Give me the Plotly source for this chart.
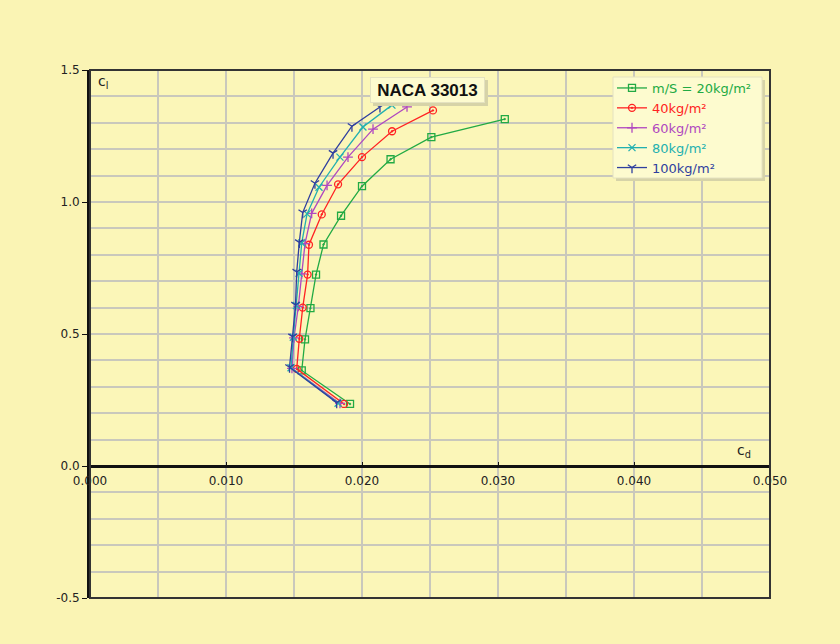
import plotly.graph_objects as go

# ---- data ----
series_names = ["m/S = 20kg/m²", "40kg/m²", "60kg/m²", "80kg/m²", "100kg/m²"]

cd_20 = [0.01912, 0.01557, 0.01581, 0.01621, 0.01662, 0.01717, 0.01846, 0.0200, 0.0221, 0.0251, 0.0305]
cl_20 = [0.235, 0.362, 0.480, 0.598, 0.725, 0.839, 0.948, 1.060, 1.162, 1.246, 1.314]

cd_40 = [0.01868, 0.0152, 0.01539, 0.01564, 0.01600, 0.01610, 0.01704, 0.01824, 0.0200, 0.02221, 0.02522]
cl_40 = [0.235, 0.368, 0.482, 0.600, 0.725, 0.838, 0.953, 1.067, 1.170, 1.268, 1.347]

cd_60 = [0.01838, 0.01485, 0.0150, 0.01532, 0.01557, 0.01581, 0.0163, 0.01743, 0.01897, 0.02081, 0.02331]
cl_60 = [0.237, 0.370, 0.485, 0.605, 0.728, 0.842, 0.957, 1.063, 1.170, 1.276, 1.360]

cd_80 = [0.01824, 0.01478, 0.01495, 0.01518, 0.01537, 0.01557, 0.01596, 0.01684, 0.01838, 0.02007, 0.0222]
cl_80 = [0.238, 0.372, 0.488, 0.608, 0.730, 0.845, 0.955, 1.056, 1.170, 1.284, 1.367]

cd_100 = [0.01814, 0.01467, 0.01489, 0.01511, 0.0152, 0.01539, 0.01564, 0.01654, 0.01787, 0.01926, 0.02132]
cl_100 = [0.240, 0.374, 0.490, 0.610, 0.735, 0.847, 0.960, 1.071, 1.185, 1.287, 1.360]

x_ticks = [0.0, 0.01, 0.02, 0.03, 0.04, 0.05]
x_tick_labels = ["0.000", "0.010", "0.020", "0.030", "0.040", "0.050"]
y_ticks = [-0.5, 0.0, 0.5, 1.0, 1.5]
y_tick_labels = ["-0.5", "0.0", "0.5", "1.0", "1.5"]

chart_title = "NACA 33013"

# ---- styles ----
colors = ["#22AA44", "#FF2222", "#B048C0", "#22B0B0", "#2F3F9F"]
symbols = ["square-open-dot", "circle-open-dot", "cross-thin-open", "x-thin-open", "y-down-open"]
xs = [cd_20, cd_40, cd_60, cd_80, cd_100]
ys = [cl_20, cl_40, cl_60, cl_80, cl_100]

FONT = "DejaVu Sans, Verdana, sans-serif"
TFONT = "Liberation Sans, Arial, sans-serif"
SHADOW = "#D6D3A8"
BOXBG = "#FDFBCF"

fig = go.Figure()
for name, x, y, c, s in zip(series_names, xs, ys, colors, symbols):
    fig.add_trace(go.Scatter(
        x=x, y=y, mode="lines+markers",
        name=f"<span style='color:{c}'>{name}</span>",
        line=dict(color=c, width=1.3),
        marker=dict(symbol=s, size=7, color=c, line=dict(color=c, width=1.3)),
    ))

def px2paper(px, py):
    return (px - 90) / 680.0, (598 - py) / 528.0

grid_c = "#C9C8BC"
lx, ly = px2paper(612, 73)
fig.update_layout(
    width=840, height=644,
    margin=dict(l=90, r=70, t=70, b=46),
    paper_bgcolor="#FAF4B4",
    plot_bgcolor="#FBF6B8",
    font=dict(family=FONT, size=12, color="#222222"),
    showlegend=True,
    legend=dict(
        x=lx, y=ly, xanchor="left", yanchor="top",
        bgcolor="rgba(0,0,0,0)", borderwidth=0,
        font=dict(family=FONT, size=13),
        tracegroupgap=0, itemwidth=30,
    ),
    xaxis=dict(
        range=[0, 0.05], tickvals=x_ticks, ticktext=x_tick_labels,
        showgrid=True, gridcolor=grid_c, gridwidth=1.5,
        minor=dict(dtick=0.005, showgrid=True, gridcolor=grid_c, gridwidth=1.5),
        zeroline=False, showline=False,
        anchor="free", position=0.25,
        ticks="inside", ticklen=4, tickcolor="#111111",
        ticklabelstandoff=6,
        tickfont=dict(family=FONT, size=12, color="#222222"),
    ),
    yaxis=dict(
        range=[-0.5, 1.5], tickvals=y_ticks, ticktext=y_tick_labels,
        showgrid=True, gridcolor=grid_c, gridwidth=1.5,
        minor=dict(dtick=0.1, showgrid=True, gridcolor=grid_c, gridwidth=1.5),
        zeroline=True, zerolinecolor="#111111", zerolinewidth=2.5,
        showline=True, linecolor="#111111", linewidth=3,
        ticks="outside", ticklen=5, tickcolor="#111111",
        tickfont=dict(family=FONT, size=12, color="#222222"),
    ),
)

shapes = []
# plot frame
shapes.append(dict(type="rect", xref="paper", yref="paper", x0=0, x1=1, y0=0, y1=1,
                   line=dict(color="#333333", width=2), layer="above"))
# legend shadow + box
x0, y1 = px2paper(616, 80); x1, y0 = px2paper(765, 181)
shapes.append(dict(type="rect", xref="paper", yref="paper", x0=x0, x1=x1, y0=y0, y1=y1,
                   line=dict(width=0), fillcolor=SHADOW, layer="above"))
x0, y1 = px2paper(613, 77); x1, y0 = px2paper(762, 178)
shapes.append(dict(type="rect", xref="paper", yref="paper", x0=x0, x1=x1, y0=y0, y1=y1,
                   line=dict(color="#E4E2C0", width=1), fillcolor=BOXBG, layer="above"))
# title box shadow
x0, y1 = px2paper(373, 80); x1, y0 = px2paper(488, 106)
shapes.append(dict(type="rect", xref="paper", yref="paper", x0=x0, x1=x1, y0=y0, y1=y1,
                   line=dict(width=0), fillcolor=SHADOW, layer="above"))
fig.update_layout(shapes=shapes)

tx, ty = px2paper(427, 90)
ax_l = px2paper(96, 71)
ax_d = px2paper(753, 462)
fig.update_layout(annotations=[
    dict(text=f"<b>{chart_title}</b>", x=tx, y=ty, xref="paper", yref="paper",
         showarrow=False, xanchor="center", yanchor="middle",
         width=109, height=20, borderpad=2, borderwidth=1,
         font=dict(family=TFONT, size=17, color="#111111"),
         bgcolor=BOXBG, bordercolor="#E4E2C0"),
    dict(text="c<sub>l</sub>", x=ax_l[0], y=ax_l[1], xref="paper", yref="paper",
         xanchor="left", yanchor="top", showarrow=False,
         font=dict(family=FONT, size=14, color="#222222")),
    dict(text="c<sub>d</sub>", x=ax_d[0], y=ax_d[1], xref="paper", yref="paper",
         xanchor="right", yanchor="bottom", showarrow=False,
         font=dict(family=FONT, size=14, color="#222222")),
])

fig.write_html("out.html", config={"displayModeBar": False},
               post_script="document.body.style.margin='0';document.body.style.overflow='hidden';")
